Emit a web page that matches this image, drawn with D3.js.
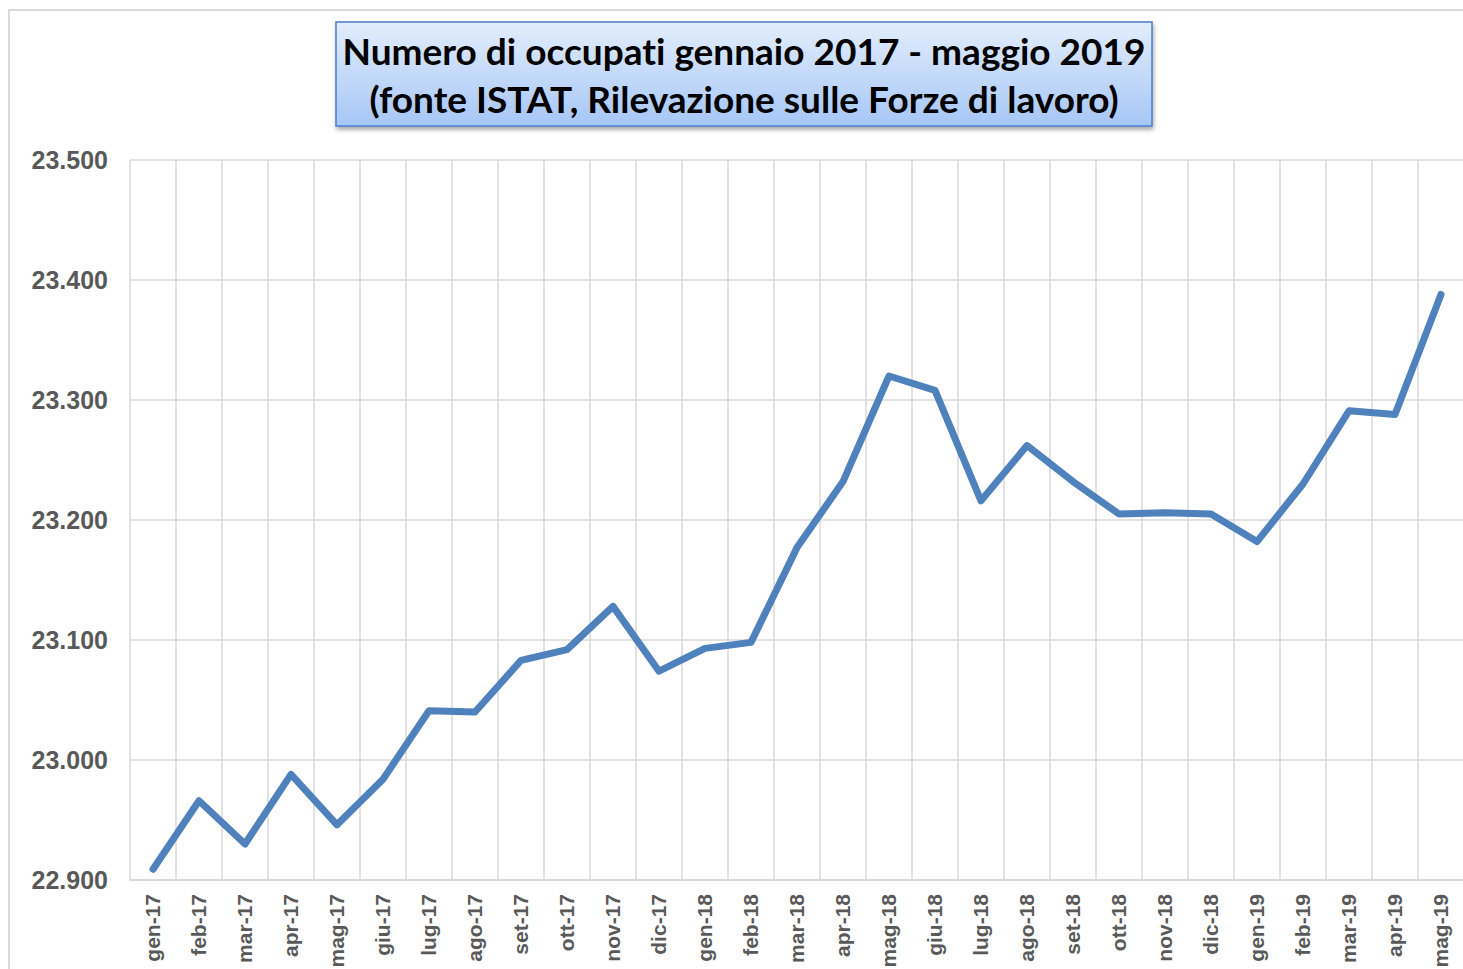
<!DOCTYPE html>
<html>
<head>
<meta charset="utf-8">
<script src="https://cdn.jsdelivr.net/npm/d3@7"></script>
<style>
  body { margin: 0; background: #fff; }
  svg { display: block; }
  text { font-variant-ligatures: none; }
</style>
</head>
<body>
<div id="chart-area"></div>
<script>
const months = ["gen-17","feb-17","mar-17","apr-17","mag-17","giu-17","lug-17","ago-17","set-17","ott-17","nov-17","dic-17",
  "gen-18","feb-18","mar-18","apr-18","mag-18","giu-18","lug-18","ago-18","set-18","ott-18","nov-18","dic-18",
  "gen-19","feb-19","mar-19","apr-19","mag-19"];
const occupati = [22909, 22966, 22930, 22988, 22946, 22984, 23041, 23040, 23083, 23092, 23128, 23074,
  23093, 23098, 23177, 23232, 23320, 23308, 23216, 23262, 23232, 23205, 23206, 23205,
  23182, 23230, 23291, 23288, 23388];
const yTicks = [22900, 23000, 23100, 23200, 23300, 23400, 23500];
const titleLines = ["Numero di occupati gennaio 2017 - maggio 2019", "(fonte ISTAT, Rilevazione sulle Forze di lavoro)"];

const W = 1463, H = 969;
const margin = { top: 160, right: -1, bottom: 89, left: 130 };
const width = W - margin.left - margin.right;
const height = H - margin.top - margin.bottom;

const svg = d3.select("#chart-area")
  .append("svg")
  .attr("width", W)
  .attr("height", H);

// outer chart border
svg.append("rect")
  .attr("x", 9).attr("y", 10)
  .attr("width", W + 10).attr("height", H + 10)
  .attr("fill", "none")
  .attr("stroke", "#d9d9d9")
  .attr("stroke-width", 2);

const g = svg.append("g")
  .attr("transform", `translate(${margin.left}, ${margin.top})`);

const x = d3.scaleBand()
  .domain(months)
  .range([0, width]);

const y = d3.scaleLinear()
  .domain([22900, 23500])
  .range([height, 0]);

// horizontal grid
g.append("g")
  .selectAll("line")
  .data(yTicks)
  .enter()
  .append("line")
  .attr("x1", 0).attr("x2", width)
  .attr("y1", d => y(d)).attr("y2", d => y(d))
  .attr("stroke", "#d9d9d9")
  .attr("stroke-width", 1.5);

// vertical grid at category boundaries
g.append("g")
  .selectAll("line")
  .data(months)
  .enter()
  .append("line")
  .attr("x1", d => x(d)).attr("x2", d => x(d))
  .attr("y1", 0).attr("y2", height + 1)
  .attr("stroke", "#d9d9d9")
  .attr("stroke-width", 1.5);

// y labels
const yAxis = d3.axisLeft(y)
  .tickValues(yTicks)
  .tickSize(0)
  .tickPadding(22)
  .tickFormat(d => d3.format(",")(d).replace(",", "."));

g.append("g")
  .call(yAxis)
  .call(s => s.select(".domain").remove())
  .selectAll("text")
  .attr("fill", "#595959")
  .attr("font-family", "Liberation Sans, Arial, sans-serif")
  .attr("font-weight", "bold")
  .attr("font-size", "25px")
  .attr("dy", "0.35em");

// x labels
const xAxis = d3.axisBottom(x).tickSize(0).tickPadding(0);

g.append("g")
  .attr("transform", `translate(0, ${height})`)
  .call(xAxis)
  .call(s => s.select(".domain").remove())
  .selectAll("text")
  .attr("fill", "#595959")
  .attr("font-family", "Liberation Sans, Arial, sans-serif")
  .attr("font-weight", "bold")
  .attr("font-size", "21px")
  .attr("text-anchor", "end")
  .attr("transform", "rotate(-90)")
  .attr("x", -14)
  .attr("y", 0)
  .attr("dy", "0.35em");

// bottom axis line
g.append("line")
  .attr("x1", 0).attr("x2", width)
  .attr("y1", height).attr("y2", height)
  .attr("stroke", "#d9d9d9")
  .attr("stroke-width", 2);

// data line
const line = d3.line()
  .x((d, i) => x(months[i]) + x.bandwidth() / 2)
  .y(d => y(d));

g.append("path")
  .datum(occupati)
  .attr("d", line)
  .attr("fill", "none")
  .attr("stroke", "#4f81bd")
  .attr("stroke-width", 7)
  .attr("stroke-linejoin", "round")
  .attr("stroke-linecap", "round");

// title box
const defs = svg.append("defs");
const grad = defs.append("linearGradient")
  .attr("id", "titleGrad")
  .attr("x1", 0).attr("y1", 0).attr("x2", 0).attr("y2", 1);
grad.append("stop").attr("offset", "0%").attr("stop-color", "#e3eefc");
grad.append("stop").attr("offset", "100%").attr("stop-color", "#a6c6f6");

const shadow = defs.append("filter").attr("id", "shadow")
  .attr("x", "-5%").attr("y", "-10%").attr("width", "110%").attr("height", "130%");
shadow.append("feDropShadow")
  .attr("dx", 1).attr("dy", 3).attr("stdDeviation", 2)
  .attr("flood-color", "#000").attr("flood-opacity", 0.35);

svg.append("rect")
  .attr("x", 336).attr("y", 22)
  .attr("width", 816).attr("height", 104)
  .attr("fill", "url(#titleGrad)")
  .attr("stroke", "#4a7ecb")
  .attr("stroke-width", 1.5)
  .attr("filter", "url(#shadow)");

svg.append("g")
  .selectAll("text")
  .data(titleLines)
  .enter()
  .append("text")
  .attr("x", 744)
  .attr("y", (d, i) => 65 + i * 48)
  .attr("text-anchor", "middle")
  .attr("font-family", "Lato, sans-serif")
  .attr("font-weight", "bold")
  .attr("font-size", "37px")
  .attr("fill", "#000")
  .text(d => d);
</script>
</body>
</html>
